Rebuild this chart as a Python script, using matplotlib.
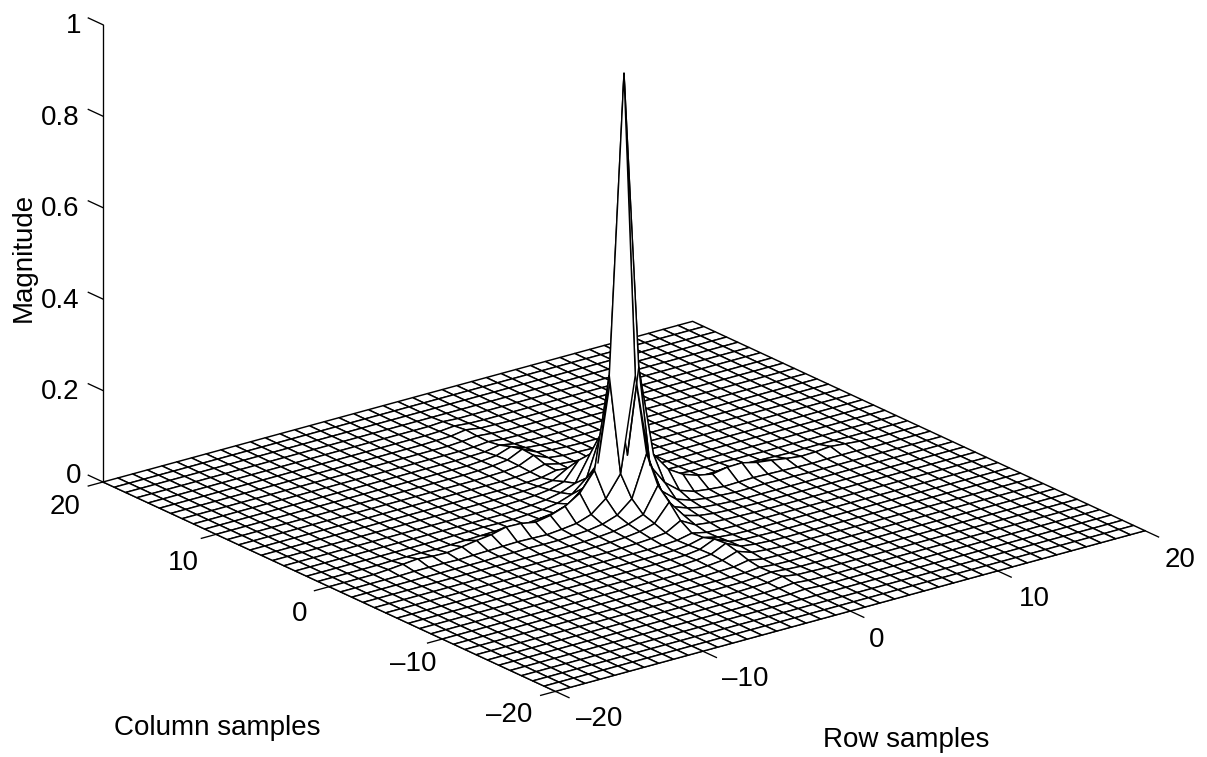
import numpy as np
import matplotlib
matplotlib.use('Agg')
import matplotlib.pyplot as plt
from matplotlib.transforms import IdentityTransform
from mpl_toolkits.mplot3d import proj3d

plt.rcParams['font.family'] = ['Liberation Sans', 'DejaVu Sans']

row_samples = np.arange(-20, 21)
col_samples = np.arange(-20, 21)
row_ticks = [-20, -10, 0, 10, 20]
col_ticks = [-20, -10, 0, 10, 20]
mag_ticks = [0, 0.2, 0.4, 0.6, 0.8, 1]

# magnitude: rows = |column offset|, cols = |row offset| from the centre
quadrant = [
    [.947, .295, .096, .055, .035, .024, .018, .024, .025, .017, .013, .008, .004, .005, .008, .005, .002],
    [.298, .092, .046, .020, .009, .005, .002, .003, .004, .003, .002, .001, 0, .001, .001, .001, 0],
    [.138, .048, .021, .010, .005, .003, .001, .001, .002, .001, .001, 0, 0, 0, 0, 0, 0],
    [.080, .025, .013, .006, .003, .001, 0, 0, 0, 0, 0, 0, 0, 0, 0, 0, 0],
    [.055, .017, .008, .004, .002, .001, 0, 0, 0, 0, 0, 0, 0, 0, 0, 0, 0],
    [.026, .008, .004, .002, .001, 0, 0, 0, 0, 0, 0, 0, 0, 0, 0, 0, 0],
    [.010, .003, .001, 0, 0, 0, 0, 0, 0, 0, 0, 0, 0, 0, 0, 0, 0],
    [.012, .004, .001, 0, 0, 0, 0, 0, 0, 0, 0, 0, 0, 0, 0, 0, 0],
    [.020, .006, .002, .001, 0, 0, 0, 0, 0, 0, 0, 0, 0, 0, 0, 0, 0],
    [.022, .007, .003, .001, 0, 0, 0, 0, 0, 0, 0, 0, 0, 0, 0, 0, 0],
    [.016, .005, .002, 0, 0, 0, 0, 0, 0, 0, 0, 0, 0, 0, 0, 0, 0],
    [.008, .002, .001, 0, 0, 0, 0, 0, 0, 0, 0, 0, 0, 0, 0, 0, 0],
    [.004, .001, 0, 0, 0, 0, 0, 0, 0, 0, 0, 0, 0, 0, 0, 0, 0],
    [.005, .002, 0, 0, 0, 0, 0, 0, 0, 0, 0, 0, 0, 0, 0, 0, 0],
    [.007, .002, .001, 0, 0, 0, 0, 0, 0, 0, 0, 0, 0, 0, 0, 0, 0],
    [.004, .001, 0, 0, 0, 0, 0, 0, 0, 0, 0, 0, 0, 0, 0, 0, 0],
    [.002, 0, 0, 0, 0, 0, 0, 0, 0, 0, 0, 0, 0, 0, 0, 0, 0],
]

quad = np.array(quadrant)
X, Y = np.meshgrid(row_samples, col_samples)
Z = np.zeros_like(X, dtype=float)
for a in range(X.shape[0]):
    for b in range(X.shape[1]):
        ja, ib = abs(int(Y[a, b])), abs(int(X[a, b]))
        if ja < quad.shape[0] and ib < quad.shape[1]:
            Z[a, b] = quad[ja, ib]

W, H = 1207, 757
fig = plt.figure(figsize=(W / 100, H / 100), dpi=100, facecolor='white')
ax = fig.add_axes([0, 0, 1, 1], projection='3d', proj_type='ortho')
ax.computed_zorder = False
ax.set_xlim(-20, 20)
ax.set_ylim(-20, 20)
ax.set_zlim(0, 1)
ax.view_init(elev=20.8, azim=-127.5)
ax.set_box_aspect((743, 743, 489))
ax.set_axis_off()

LW = 1.05
ax.plot_surface(X, Y, Z, rstride=1, cstride=1, color='white', edgecolor='black',
                linewidth=LW, shade=False, antialiased=True, zorder=2)

# stray edge that shows through the spike in the reference
ax.plot([1, 1], [1, 0], [Z[21, 21], Z[20, 21]], color='black', lw=LW, zorder=3)

# axes: lines and ticks
line = dict(color='black', lw=0.95, zorder=1)
ax.plot([-20, -20], [20, 20], [0, 1], **line)
for m in mag_ticks:
    ax.plot([-20, -20], [20, 21.3], [m, m], **line)
for c in col_ticks:
    ax.plot([-20, -21], [c, c], [0, 0], **line)
for r in row_ticks:
    ax.plot([r, r], [-20, -21.2], [0, 0], **line)
ax.plot([-20, 20], [-20, -20], [0, 0], **line)
ax.plot([-20, -20], [-20, 20], [0, 0], **line)


def px(x, y, z):
    xs, ys, _ = proj3d.proj_transform(x, y, z, ax.get_proj())
    return np.array(ax.transData.transform((xs, ys)))


# fit the box to the reference frame (pixel coordinates, y up)
target_l = np.array([103.0, H - 482.0])
target_r = np.array([1145.0, H - 530.0])
S = 800.0
x0, y0 = 200.0, 0.0
for _ in range(4):
    ax.set_position([x0 / W, y0 / H, S / W, S / H])
    ax.apply_aspect()
    pl, pr = px(-20, 20, 0), px(20, -20, 0)
    k = (target_r[0] - target_l[0]) / (pr[0] - pl[0])
    cx, cy = x0 + S / 2, y0 + S / 2
    offs = (pl - np.array([cx, cy])) * k
    S = S * k
    cx, cy = target_l - offs
    x0, y0 = cx - S / 2, cy - S / 2
ax.set_position([x0 / W, y0 / H, S / W, S / H])
ax.patch.set_visible(False)

FS = 20


def label(x, y, s, **kw):
    kw.setdefault('ha', 'center')
    kw.setdefault('va', 'center')
    fig.text(x, H - y - 2, s, transform=IdentityTransform(), fontsize=FS, color='black', **kw)


mag_labels = ['0', '0.2', '0.4', '0.6', '0.8', '1']
mag_xy = [(81, 474), (79, 390), (79, 299), (79, 207), (79, 116), (81, 24)]
for (x, y), s in zip(mag_xy, mag_labels):
    label(x, y, s, ha='right')

col_labels = ['–20', '–10', '0', '10', '20']
col_xy = [(509, 713), (413, 662), (300, 612), (183, 561), (65, 505)]
for (x, y), s in zip(col_xy, col_labels):
    label(x, y, s)

row_labels = ['–20', '–10', '0', '10', '20']
row_xy = [(599, 717), (745, 677), (877, 638), (1034, 597), (1180, 558)]
for (x, y), s in zip(row_xy, row_labels):
    label(x, y, s)

label(217, 726, 'Column samples')
label(906, 738, 'Row samples')
label(24, 255, 'Magnitude', rotation=90)

fig.savefig('out.png', dpi=100)
